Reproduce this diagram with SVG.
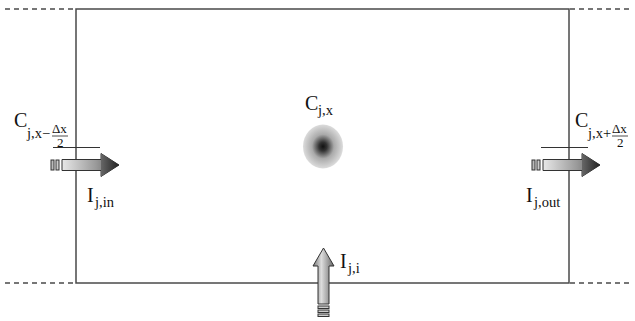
<svg xmlns="http://www.w3.org/2000/svg" width="635" height="321" viewBox="0 0 635 321">
<defs>
<style>
.ln{stroke:#4a4a4a;stroke-width:1.5;fill:none}
.ds{stroke:#4a4a4a;stroke-width:1.5;fill:none;stroke-dasharray:5,4}
.tk{stroke:#333;stroke-width:1.2}
.t{font-family:"Liberation Serif","DejaVu Serif",serif;fill:#111}
.m{font-size:20px}
.s{font-size:14.5px}
.f{font-size:13px}
.ar{stroke:#333;stroke-width:1}
</style>
<linearGradient id="gh" x1="0" y1="0" x2="1" y2="0">
<stop offset="0" stop-color="#e8e8e8"/><stop offset="0.6" stop-color="#999"/><stop offset="1" stop-color="#555"/>
</linearGradient>
<linearGradient id="ghh" x1="0" y1="0" x2="1" y2="0">
<stop offset="0" stop-color="#666"/><stop offset="1" stop-color="#222"/>
</linearGradient>
<linearGradient id="gv" x1="0" y1="0" x2="1" y2="0">
<stop offset="0" stop-color="#777"/><stop offset="0.4" stop-color="#ddd"/><stop offset="1" stop-color="#666"/>
</linearGradient>
<radialGradient id="blob">
<stop offset="0" stop-color="#111"/><stop offset="0.2" stop-color="#333"/><stop offset="0.55" stop-color="#aaa"/><stop offset="1" stop-color="#dcdcdc"/>
</radialGradient>
<g id="harrow">
<rect x="0" y="-5" width="3" height="10" fill="#bbb" class="ar"/>
<rect x="5" y="-5" width="3" height="10" fill="#ccc" class="ar"/>
<path d="M11,-5.5 H50 V-11.5 L68,0 L50,11.5 V5.5 H11 Z" fill="url(#gh)" class="ar"/>
<path d="M50,-11.5 L68,0 L50,11.5 Z" fill="url(#ghh)" stroke="none"/>
</g>
</defs>
<g id="box">
<rect x="76" y="9" width="493" height="274" class="ln"/>
</g>
<g id="connectors">
<line x1="5" y1="9" x2="75" y2="9" class="ds"/>
<line x1="570" y1="9" x2="632" y2="9" class="ds"/>
<line x1="5" y1="283" x2="75" y2="283" class="ds"/>
<line x1="570" y1="283" x2="632" y2="283" class="ds"/>
<line x1="53" y1="147.5" x2="100" y2="147.5" class="tk"/>
<line x1="541" y1="147.5" x2="588" y2="147.5" class="tk"/>
</g>
<g id="left-flux">
<use href="#harrow" x="51" y="165"/>
<text class="t m" x="14" y="127">C</text>
<text class="t s" x="27" y="138">j,x−</text>
<text class="t f" x="52" y="133">Δx</text>
<line x1="52" y1="136" x2="68" y2="136" stroke="#222" stroke-width="0.8"/>
<text class="t f" x="57" y="147">2</text>
<text class="t m" x="87" y="202">I</text>
<text class="t s" x="95" y="207">j,in</text>
</g>
<g id="right-flux">
<use href="#harrow" x="532" y="165"/>
<text class="t m" x="575" y="127">C</text>
<text class="t s" x="588" y="138">j,x+</text>
<text class="t f" x="612" y="133">Δx</text>
<line x1="612" y1="136" x2="628" y2="136" stroke="#222" stroke-width="0.8"/>
<text class="t f" x="617" y="147">2</text>
<text class="t m" x="526" y="202">I</text>
<text class="t s" x="534" y="207">j,out</text>
</g>
<g id="center">
<ellipse cx="323" cy="146.5" rx="20" ry="22" fill="url(#blob)"/>
<text class="t m" x="305" y="110">C</text>
<text class="t s" x="318" y="115">j,x</text>
</g>
<g id="bottom-flux">
<path d="M318,304 V266 H313 L323.5,248 L334,266 H329 V304 Z" fill="url(#gv)" class="ar"/>
<rect x="318" y="306" width="11" height="2.5" fill="#ccc" class="ar"/>
<rect x="318" y="310" width="11" height="2.5" fill="#ccc" class="ar"/>
<rect x="318" y="314" width="11" height="2.5" fill="#ccc" class="ar"/>
<text class="t m" x="340" y="268">I</text>
<text class="t s" x="348" y="273">j,i</text>
</g>
</svg>
